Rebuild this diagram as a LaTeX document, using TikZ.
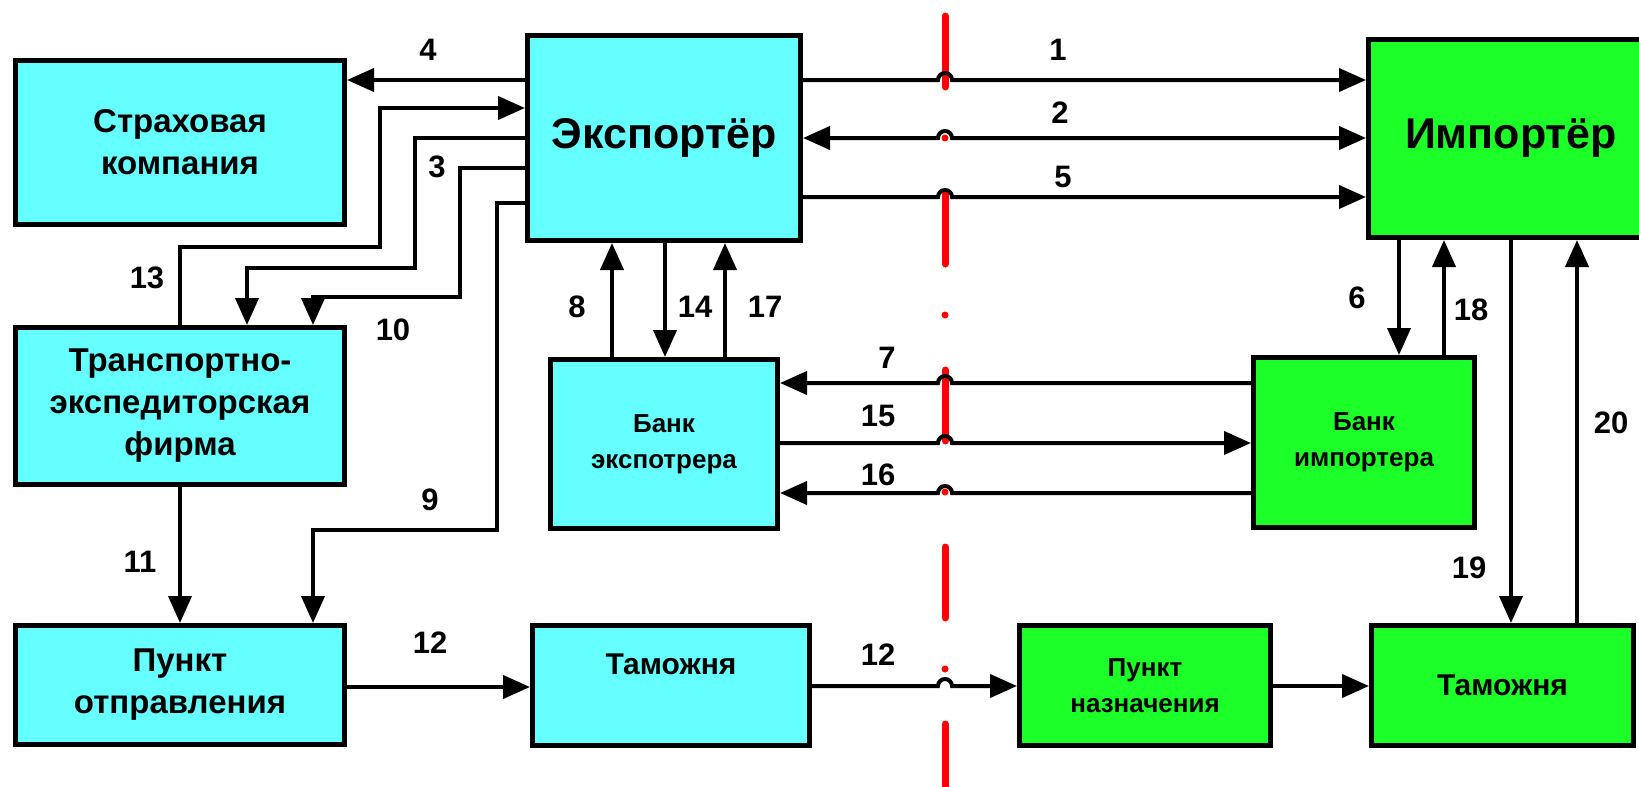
\documentclass[tikz,border=0pt]{standalone}
\usepackage{fontspec}
\setmainfont{Liberation Sans}
\usetikzlibrary{arrows.meta}

\definecolor{ExpCyan}{RGB}{102,255,255}
\definecolor{ImpGreen}{RGB}{28,255,40}

\tikzset{
  block/.style={draw=black,line width=5pt,rectangle,align=center,inner sep=0pt,font=\bfseries},
  expblock/.style={block,fill=ExpCyan},
  impblock/.style={block,fill=ImpGreen},
  bigtext/.style={font=\fontsize{43}{47}\selectfont\bfseries},
  midtext/.style={font=\fontsize{33}{42}\selectfont\bfseries},
  smalltext/.style={font=\fontsize{26}{36}\selectfont\bfseries},
  flow/.style={draw=black,line width=4pt},
  num/.style={font=\fontsize{31}{34}\selectfont\bfseries},
  borderline/.style={draw=red,line width=7pt,line cap=round,dash pattern=on 71pt off 51pt on 0pt off 55pt}
}

\newcommand{\hop}[1]{% Parameter: level of the line that jumps over the border
  -- (938,#1) arc[start angle=180,end angle=0,radius=7pt]}

\begin{document}
\begin{tikzpicture}[x=1pt,y=-1pt,>={Triangle[length=27pt,width=23pt]}]
  \path[use as bounding box,fill=white] (0,0) rectangle (1639,787);

  % border between the countries
  \coordinate (border top) at (945,16);
  \coordinate (border bottom) at (945,800);
  \draw[borderline] (border top) -- (border bottom);

  % exporter side
  \node[expblock,midtext,minimum width=329pt,minimum height=164pt] (ins) at (180,142.5) {Страховая\\компания};
  \node[expblock,bigtext,minimum width=273pt,minimum height=205pt] (exp) at (664,138) {Экспортёр};
  \node[expblock,midtext,minimum width=329pt,minimum height=157pt] (trans) at (180,406) {Транспортно-\\экспедиторская\\фирма};
  \node[expblock,smalltext,minimum width=227pt,minimum height=169pt] (bexp) at (664,444) {Банк\\экспотрера};
  \node[expblock,midtext,minimum width=329pt,minimum height=119pt] (dep) at (180,685) {Пункт\\отправления};
  \node[expblock,font=\fontsize{30}{36}\selectfont\bfseries,text height=22pt,text depth=45pt,minimum width=277pt,minimum height=120pt] (cusex) at (671,685.5) {Таможня};

  % importer side
  \node[impblock,bigtext,minimum width=285pt,minimum height=198pt] (imp) at (1511,138.5) {Импортёр};
  \node[impblock,smalltext,minimum width=221pt,minimum height=170pt] (bimp) at (1364,442.5) {Банк\\импортера};
  \node[impblock,smalltext,minimum width=251pt,minimum height=120pt] (dest) at (1145,685.5) {Пункт\\назначения};
  \node[impblock,font=\fontsize{30}{36}\selectfont\bfseries,minimum width=262pt,minimum height=120pt] (cusim) at (1502.5,685.5) {Таможня};

  % exporter -- importer
  \draw[flow,->] (exp.east |- 0,80) \hop{80} -- (imp.west |- 0,80);
  \draw[flow,<->] (exp.east |- 0,138) \hop{138} -- (imp.west |- 0,138);
  \draw[flow,->] (exp.east |- 0,197) \hop{197} -- (imp.west |- 0,197);

  % exporter -- insurance and forwarder
  \draw[flow,->] (exp.west |- 0,80) -- (ins.east |- 0,80);
  \draw[flow,->] (trans.north) |- (380,247) |- (exp.west |- 0,108);
  \draw[flow,->] (exp.west |- 0,138) -| (415,268) -| (trans.north -| 247,0);
  \draw[flow,->] (exp.west |- 0,168) -| (460,297) -| (trans.north -| 313,0);
  \draw[flow,->] (exp.west |- 0,203) -| (497,530) -| (dep.north -| 313,0);
  \draw[flow,->] (trans.south) -- (dep.north);

  % goods
  \draw[flow,->] (dep.east |- 0,687) -- (cusex.west |- 0,687);
  \draw[flow,->] (cusex.east |- 0,686) \hop{686} -- (dest.west |- 0,686);
  \draw[flow,->] (dest.east |- 0,686) -- (cusim.west |- 0,686);

  % banks
  \draw[flow,->] (bexp.north -| 612,0) -- (exp.south -| 612,0);
  \draw[flow,->] (exp.south -| 665,0) -- (bexp.north -| 665,0);
  \draw[flow,->] (bexp.north -| 725,0) -- (exp.south -| 725,0);
  \draw[flow,<-] (bexp.east |- 0,383) \hop{383} -- (bimp.west |- 0,383);
  \draw[flow,->] (bexp.east |- 0,443) \hop{443} -- (bimp.west |- 0,443);
  \draw[flow,<-] (bexp.east |- 0,493) \hop{493} -- (bimp.west |- 0,493);
  \draw[flow,->] (imp.south -| 1399,0) -- (bimp.north -| 1399,0);
  \draw[flow,->] (bimp.north -| 1444,0) -- (imp.south -| 1444,0);

  % importer -- customs
  \draw[flow,->] (imp.south -| 1511,0) -- (cusim.north -| 1511,0);
  \draw[flow,->] (cusim.north -| 1577,0) -- (imp.south -| 1577,0);

  % numbers
  \node[num] (n1) at (1058,50) {1};
  \node[num] (n2) at (1060,113) {2};
  \node[num] (n5) at (1063,177) {5};
  \node[num] (n4) at (428,50) {4};
  \node[num] (n13) at (147,278) {13};
  \node[num] (n3) at (437,167) {3};
  \node[num] (n10) at (393,330) {10};
  \node[num] (n9) at (430,500) {9};
  \node[num] (n11) at (140,562) {11};
  \node[num] (n12a) at (430,643) {12};
  \node[num] (n12b) at (878,655) {12};
  \node[num] (n8) at (577,307) {8};
  \node[num] (n14) at (695,307) {14};
  \node[num] (n17) at (765,307) {17};
  \node[num] (n7) at (887,358) {7};
  \node[num] (n15) at (878,416) {15};
  \node[num] (n16) at (878,475) {16};
  \node[num] (n6) at (1357,298) {6};
  \node[num] (n18) at (1471,310) {18};
  \node[num] (n19) at (1469,568) {19};
  \node[num] (n20) at (1611,423) {20};
\end{tikzpicture}
\end{document}
